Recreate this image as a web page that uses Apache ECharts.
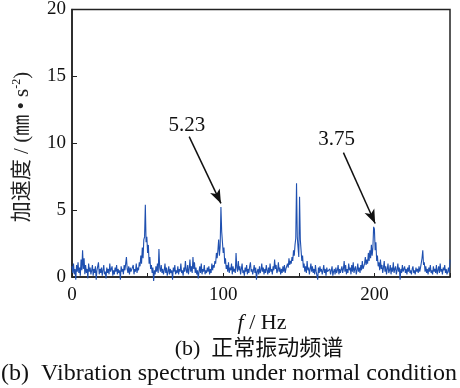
<!DOCTYPE html>
<html><head><meta charset="utf-8">
<script src="https://cdn.jsdelivr.net/npm/echarts@6/dist/echarts.min.js"></script>
<style>html,body{margin:0;padding:0;background:#fff}#c{width:460px;height:388px}</style>
</head><body><div id="c"></div>
<script>
// frequency step of the spectrum (Hz)
const freqStep = 0.5;
// acceleration amplitude, 0..250 Hz every 0.5 Hz
const amp = [].concat(
 [0.8,0.3,1.0,0.2,0.6,-0.2,0.9,0.4,1.1,0.3,0.7,0.1,1.3,0.5,2.0,0.6,1.4,0.2,0.9,0.3],
 [0.6,-0.1,1.0,0.4,0.7,0.2,0.5,0.9,0.1,0.6,0.3,0.8,-0.2,0.5,0.4,1.1,0.2,0.6,0.3,0.7],
 [0.1,0.5,0.9,0.2,0.4,-0.1,0.7,0.3,0.6,0.2,1.0,0.4,0.3,0.8,0.1,0.5,0.2,0.7,0.4,0.9],
 [0.2,0.6,0.3,0.5,-0.2,0.8,0.4,0.6,0.2,0.9,0.5,1.0,1.5,0.6,0.3,0.8,0.2,0.7,0.4,0.5],
 [0.3,0.9,0.2,0.6,0.4,1.0,0.3,0.7,0.5,1.1,0.8,1.6,1.0,2.2,1.4,2.8,3.0,5.4,2.6,3.0],
 [1.8,2.4,1.0,1.5,0.6,0.9,0.3,0.7,-0.3,0.5,0.2,0.8,0.4,1.0,0.3,2.1,0.7,0.4,0.9,0.3],
 [0.6,0.2,0.5,1.0,0.3,0.7,0.1,0.4,0.8,0.2,0.6,0.3,0.5,-0.2,0.7,0.4,0.9,0.2,0.5,0.3],
 [0.8,0.2,0.6,0.4,1.0,0.3,0.5,0.1,0.7,0.4,1.2,0.5,0.3,0.9,0.2,0.6,1.3,0.4,0.8,0.3],
 [1.5,0.6,1.1,0.3,0.7,0.2,0.5,-0.1,0.4,0.8,0.3,1.0,0.2,0.6,0.4,0.9,0.2,0.5,0.3,0.7],
 [0.4,0.8,0.2,0.6,0.3,1.0,0.5,0.9,0.7,1.2,1.0,1.8,1.4,2.0,2.8,1.6,2.3,5.23,3.4,2.6],
 [1.8,2.2,1.0,1.4,0.6,0.9,0.4,1.1,0.3,0.7,0.5,1.0,0.2,0.8,0.4,0.6,0.3,1.8,0.7,0.4],
 [1.2,0.5,0.8,0.2,0.6,1.0,0.3,0.5,0.1,0.7,0.4,0.9,0.2,0.6,0.3,0.8,1.1,0.4,0.6,0.2],
 [0.5,0.9,0.3,0.7,-0.2,0.4,0.6,0.2,0.8,0.3,0.5,1.0,0.4,0.7,0.2,0.6,0.3,0.9,0.5,0.2],
 [0.7,0.3,1.0,0.4,0.6,0.2,0.8,0.5,1.3,0.6,0.9,0.3,0.5,1.1,0.4,0.7,0.2,0.6,0.3,0.8],
 [0.4,0.9,0.3,0.6,0.5,1.0,0.7,1.4,0.9,1.2,1.0,1.5,1.2,2.0,1.6,2.4,2.9,7.0,3.0,2.2],
 [1.5,6.0,2.8,2.0,1.2,1.6,0.7,1.0,0.4,0.8,0.3,1.2,0.5,0.7,0.2,0.6,1.0,0.4,0.8,0.3],
 [0.6,0.2,0.9,0.4,0.5,-0.2,0.7,0.3,0.8,0.4,0.6,0.2,0.5,0.9,0.3,0.6,0.1,0.7,0.4,0.5],
 [0.3,0.6,0.2,0.5,0.8,0.1,0.4,0.6,0.2,0.7,0.3,0.5,0.9,0.2,0.6,0.3,0.4,0.8,0.3,0.6],
 [1.2,0.4,0.9,0.2,0.6,0.3,1.0,0.5,0.7,0.2,0.9,0.4,1.1,0.3,0.6,0.8,0.2,0.5,1.0,0.4],
 [0.7,0.3,0.9,0.5,1.2,0.6,0.8,1.0,1.5,0.9,1.3,1.0,1.8,1.2,2.0,1.4,2.4,1.6,2.2,3.75],
 [3.6,2.0,2.6,1.2,1.6,0.8,1.1,0.5,1.3,0.6,0.9,0.3,0.7,1.2,0.4,0.8,0.2,0.6,1.0,0.3],
 [0.5,0.9,0.2,0.7,0.4,1.1,0.3,0.6,0.8,0.2,0.5,1.0,0.4,0.7,-0.2,0.6,0.3,0.9,0.4,0.5],
 [0.8,0.3,0.6,0.2,0.7,0.4,0.9,0.3,0.5,0.2,0.6,0.8,0.3,0.5,0.2,0.7,0.4,0.6,0.3,0.8],
 [0.4,0.7,0.6,1.4,2.0,0.9,1.1,0.4,0.8,0.3,0.6,0.2,0.7,0.4,0.9,0.3,0.5,0.2,0.8,0.4],
 [0.6,0.3,0.9,0.2,0.5,0.8,0.3,1.0,0.4,0.6,0.2,0.7,0.5,0.9,0.3,0.6,0.2,0.4,0.7,0.3],
 [1.3]
);
// annotations: label, text position (Hz, value), arrow start, arrow end
const notes = [
 {text:'5.23', at:[76, 11.3], from:[77.5, 10.5], to:[98.5, 5.5]},
 {text:'3.75', at:[175, 10.3], from:[179.5, 9.3], to:[200.5, 4.0]}
];
const xTicks = [0, 100, 200];
const yTicks = [0, 5, 10, 15, 20];

const serif = '"Liberation Serif","DejaVu Serif",serif';
const cjk = '"Liberation Serif","Noto Sans CJK SC",serif';
const data = amp.map((v, i) => [i * freqStep, v]);
const chart = echarts.init(document.getElementById('c'), null, {renderer:'canvas'});
chart.setOption({
  animation:false,
  backgroundColor:'#fff',
  grid:{left:72, right:10, top:8, bottom:111, show:true, borderColor:'#222', borderWidth:1.5, backgroundColor:'transparent'},
  xAxis:{type:'value', min:0, max:250, interval:50,
    axisLine:{show:true, onZero:false, lineStyle:{color:'#222', width:1.5}},
    axisTick:{show:true, inside:true, length:4, lineStyle:{color:'#222'}},
    splitLine:{show:false},
    axisLabel:{color:'#111', fontFamily:serif, fontSize:19, margin:9,
      formatter:v => xTicks.includes(v) ? String(v) : ''}},
  yAxis:{type:'value', min:0, max:20, interval:5,
    axisLine:{show:true, onZero:false, lineStyle:{color:'#222', width:1.5}},
    axisTick:{show:true, inside:true, length:5, lineStyle:{color:'#222'}},
    splitLine:{show:false},
    axisLabel:{color:'#111', fontFamily:serif, fontSize:19, margin:6,
      formatter:v => yTicks.includes(v) ? String(v) : ''}},
  series:[{
    type:'line', data:data, showSymbol:false, symbol:'none',
    lineStyle:{color:'#1f50b0', width:1.1}, clip:false,
    markLine:{silent:true, symbol:['none','arrow'], symbolSize:[8,14],
      lineStyle:{color:'#111', width:1.5, type:'solid'}, label:{show:false},
      data: notes.map(n => [{coord:n.from}, {coord:n.to}])},
    markPoint:{silent:true, symbol:'circle', symbolSize:0,
      label:{show:true, position:'inside', color:'#111', fontFamily:serif, fontSize:21,
        formatter:p => p.name},
      data: notes.map(n => ({name:n.text, coord:n.at}))}
  }],
  graphic:[
    {type:'text', x:22, y:147, rotation:Math.PI/2, style:{
      text:'加速度 / (㎜ • s{sup|-2})', fill:'#222', font:'21px '+cjk,
      align:'center', verticalAlign:'middle', rich:{sup:{fontSize:12, fontFamily:serif, fill:'#222', padding:[0,0,10,0]}}}},
    {type:'text', x:262, y:323, style:{text:'{i|f} / Hz', fill:'#111', font:'22px '+serif, align:'center', verticalAlign:'middle',
      rich:{i:{fontStyle:'italic', fontSize:22, fontFamily:serif}}}},
    {type:'text', x:259, y:349, style:{text:'(b)  正常振动频谱', fill:'#111', font:'22px '+cjk, align:'center', verticalAlign:'middle'}},
    {type:'text', x:229, y:374, style:{text:'(b)  Vibration spectrum under normal condition', fill:'#111', font:'24px '+serif, align:'center', verticalAlign:'middle'}}
  ]
});
</script></body></html>
